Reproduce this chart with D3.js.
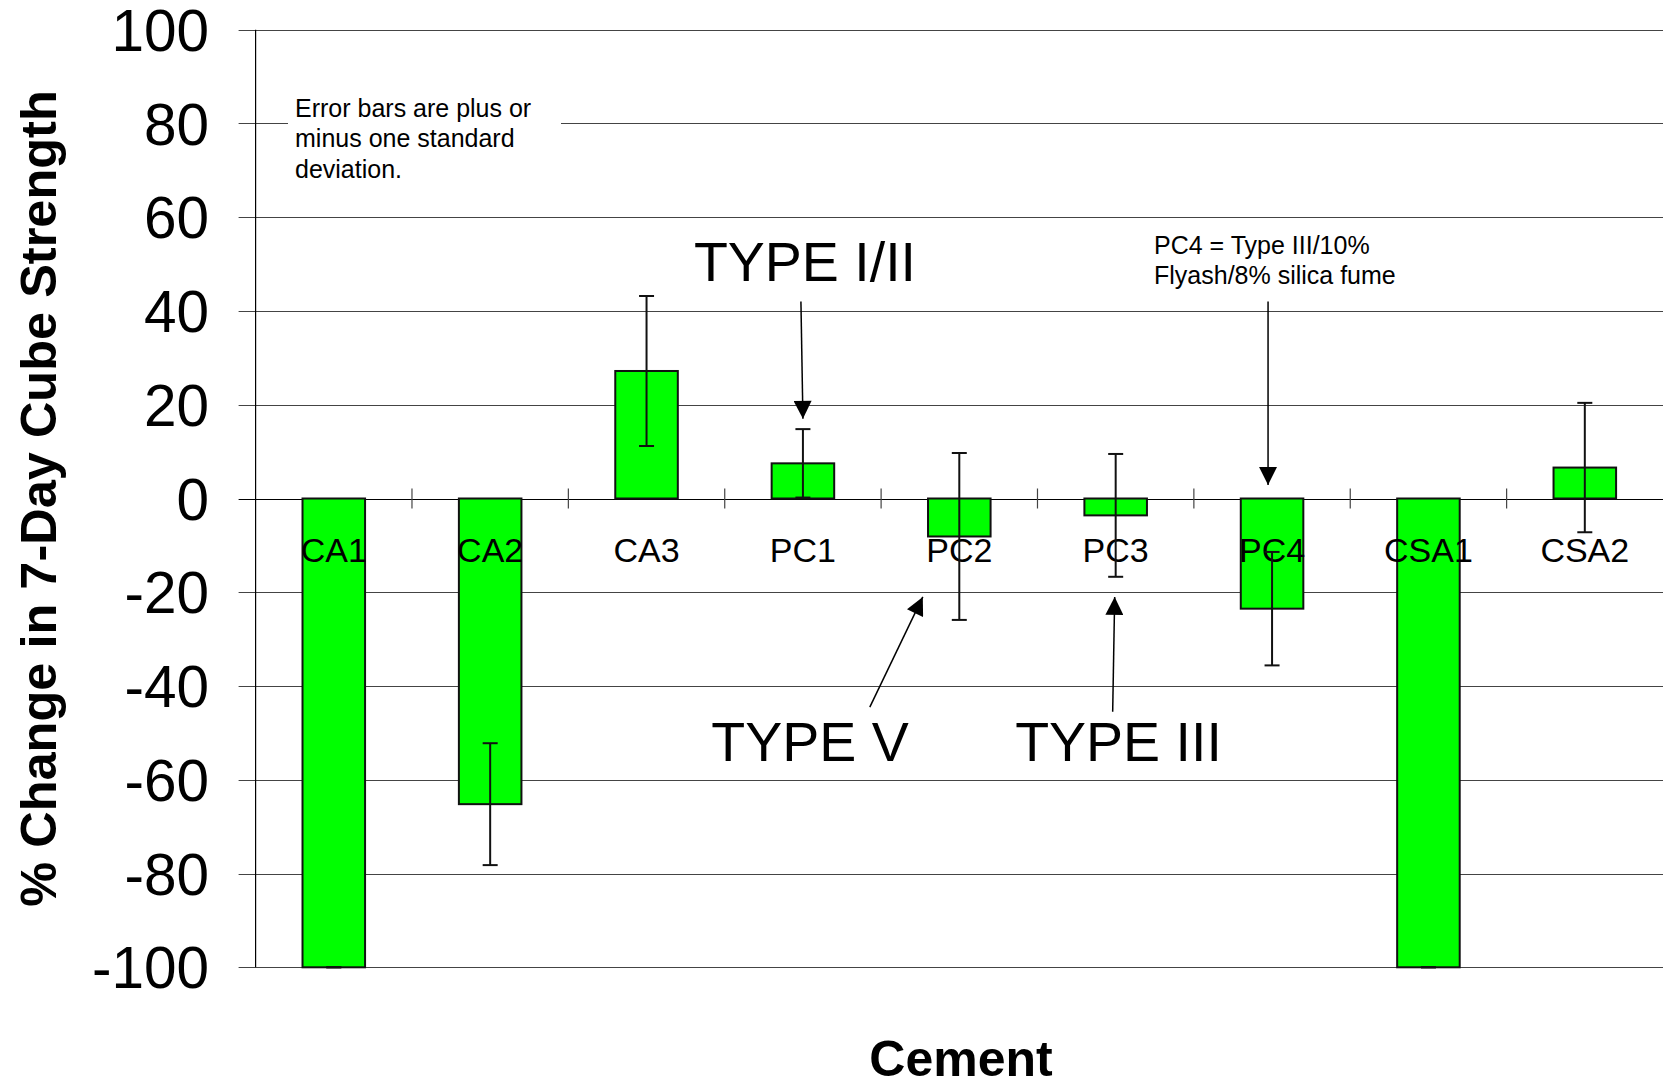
<!DOCTYPE html>
<html>
<head>
<meta charset="utf-8">
<script src="https://cdn.jsdelivr.net/npm/d3@7"></script>
<style>
  html, body { margin: 0; padding: 0; background: #fff; }
  svg { display: block; font-family: "Liberation Sans", Arial, sans-serif; }
</style>
</head>
<body>
<svg id="chart" width="1663" height="1083"></svg>
<script>
// ---- data ----
const categories = ["CA1", "CA2", "CA3", "PC1", "PC2", "PC3", "PC4", "CSA1", "CSA2"];
const meanChange = [-100, -65.2, 27.2, 7.5, -8.1, -3.6, -23.5, -100, 6.6];
const stdDev = [0, 13, 16, 7.3, 17.8, 13.1, 12.1, 0, 13.8];
const yTicks = [100, 80, 60, 40, 20, 0, -20, -40, -60, -80, -100];

const W = 1663, H = 1083;
const svg = d3.select("#chart");

const x = d3.scaleBand().domain(categories).range([255.6, 1663]).paddingInner(0.6).paddingOuter(0.3);
const y = d3.scaleLinear().domain([-100, 100]).range([967.3, 29.7]);
const step = x.step();
const x0 = 255.6;

// gridlines (with outward tick part)
svg.append("g").selectAll("line").data(yTicks).join("line")
  .attr("x1", x0 - 17).attr("x2", W)
  .attr("y1", d => Math.round(y(d)) + 0.5).attr("y2", d => Math.round(y(d)) + 0.5)
  .attr("stroke", d => d === 0 ? "#000" : "#444").attr("stroke-width", 1.2);

// y axis line
svg.append("line").attr("x1", x0).attr("x2", x0).attr("y1", y(100)).attr("y2", y(-100))
  .attr("stroke", "#000").attr("stroke-width", 1.2);

// category tick marks on the zero line
svg.append("g").selectAll("line").data(d3.range(1, categories.length)).join("line")
  .attr("x1", d => x0 + d * step).attr("x2", d => x0 + d * step)
  .attr("y1", y(0) - 10).attr("y2", y(0) + 10)
  .attr("stroke", "#444").attr("stroke-width", 1.2);

// y tick labels
svg.append("g").selectAll("text").data(yTicks).join("text")
  .attr("x", 209).attr("y", d => y(d)).attr("dy", "0.36em")
  .attr("text-anchor", "end").attr("font-size", 58.5).attr("fill", "#000")
  .text(d => d);

// white box behind note
svg.append("rect").attr("x", 288).attr("y", 92).attr("width", 273).attr("height", 96).attr("fill", "#fff");

// bars
const rows = categories.map((c, i) => ({ c, v: meanChange[i], s: stdDev[i] }));
svg.append("g").selectAll("rect").data(rows).join("rect")
  .attr("x", d => x(d.c)).attr("width", x.bandwidth())
  .attr("y", d => y(Math.max(0, d.v))).attr("height", d => Math.abs(y(d.v) - y(0)))
  .attr("fill", "#00FF00").attr("stroke", "#111").attr("stroke-width", 2);

// category labels
svg.append("g").selectAll("text").data(categories).join("text")
  .attr("x", d => x(d) + x.bandwidth() / 2).attr("y", 562)
  .attr("text-anchor", "middle").attr("font-size", 34).attr("fill", "#000")
  .text(d => d);

// error bars
const eb = svg.append("g").attr("stroke", "#111").attr("stroke-width", 2);
rows.forEach(d => {
  const cx = x(d.c) + x.bandwidth() / 2;
  eb.append("line").attr("x1", cx).attr("x2", cx).attr("y1", y(d.v + d.s)).attr("y2", y(d.v - d.s));
  [d.v + d.s, d.v - d.s].forEach(v => {
    eb.append("line").attr("x1", cx - 7.5).attr("x2", cx + 7.5).attr("y1", y(v)).attr("y2", y(v));
  });
});

// note text
const note = svg.append("text").attr("font-size", 25).attr("fill", "#000");
["Error bars are plus or", "minus one standard", "deviation."].forEach((t, i) => {
  note.append("tspan").attr("x", 295).attr("y", 116.5 + i * 30.7).text(t);
});

// PC4 note
const note2 = svg.append("text").attr("font-size", 25).attr("fill", "#000");
["PC4 = Type III/10%", "Flyash/8% silica fume"].forEach((t, i) => {
  note2.append("tspan").attr("x", 1154).attr("y", 254 + i * 30).text(t);
});

// big labels
const bigLabels = [
  { t: "TYPE I/II", cat: "PC1", dx: -109, v: 46.4 },
  { t: "TYPE V", cat: "PC2", dx: -248, v: -55.9 },
  { t: "TYPE III", cat: "PC3", dx: -100.5, v: -55.9 }
];
svg.append("g").selectAll("text").data(bigLabels).join("text")
  .attr("x", d => x(d.cat) + x.bandwidth() / 2 + d.dx).attr("y", d => y(d.v))
  .attr("font-size", 55.5).attr("fill", "#000").text(d => d.t);

// arrows
const defs = svg.append("defs");
defs.append("marker").attr("id", "ah").attr("viewBox", "0 0 10 10").attr("refX", 10).attr("refY", 5)
  .attr("markerUnits", "userSpaceOnUse").attr("markerWidth", 19).attr("markerHeight", 18).attr("orient", "auto")
  .append("path").attr("d", "M0,0 L10,5 L0,10 Z").attr("fill", "#000");

const arrows = [
  { cat: "PC1", dx1: -2, v1: 42, dx2: 0, v2: 17 },
  { cat: "PC2", dx1: -89.5, v1: -44.5, dx2: -36.5, v2: -21 },
  { cat: "PC3", dx1: -3, v1: -45.5, dx2: -1, v2: -21 },
  { cat: "PC4", dx1: -4, v1: 42, dx2: -4, v2: 2.9 }
];
svg.append("g").selectAll("line").data(arrows).join("line")
  .attr("x1", d => x(d.cat) + x.bandwidth() / 2 + d.dx1).attr("y1", d => y(d.v1))
  .attr("x2", d => x(d.cat) + x.bandwidth() / 2 + d.dx2).attr("y2", d => y(d.v2))
  .attr("stroke", "#000").attr("stroke-width", 1.5).attr("marker-end", "url(#ah)");

// axis titles
svg.append("text").attr("x", 961).attr("y", 1076).attr("text-anchor", "middle")
  .attr("font-size", 50).attr("font-weight", "bold").attr("fill", "#000").text("Cement");
svg.append("text").attr("transform", "translate(56,498.5) rotate(-90)").attr("text-anchor", "middle")
  .attr("font-size", 50.5).attr("font-weight", "bold").attr("fill", "#000").text("% Change in 7-Day Cube Strength");
</script>
</body>
</html>
